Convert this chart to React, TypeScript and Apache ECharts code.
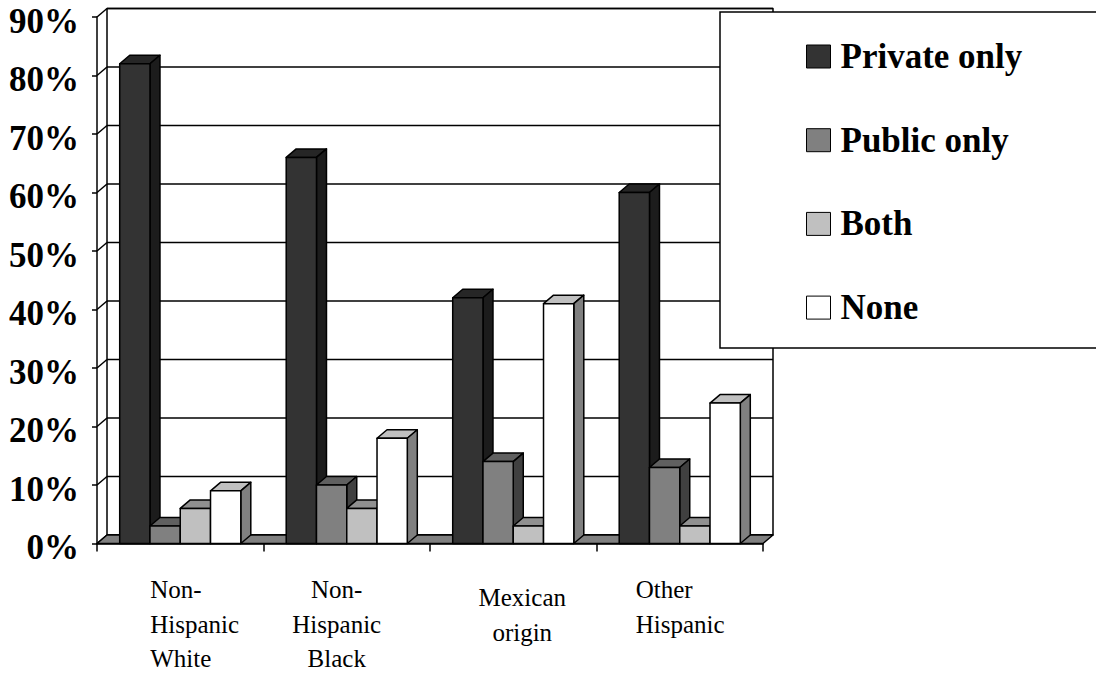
import React, { useEffect, useRef } from 'react';
import * as echarts from 'echarts';

// Health insurance coverage by ethnic group (percent of group)
const categories = ['Non-\nHispanic\nWhite', 'Non-\nHispanic\nBlack', 'Mexican\norigin', 'Other\nHispanic'];
const seriesNames = ['Private only', 'Public only', 'Both', 'None'];
const privateOnly = [82, 66, 42, 60];
const publicOnly = [3, 10, 14, 13];
const both = [6, 6, 3, 3];
const none = [9, 18, 41, 24];
const yTicks = [0, 10, 20, 30, 40, 50, 60, 70, 80, 90];

const seriesValues = [privateOnly, publicOnly, both, none];

// Shading for front, top and right-hand faces of each column
const FACES = [
  { front: '#333333', top: '#262626', side: '#1c1c1c' },
  { front: '#808080', top: '#606060', side: '#404040' },
  { front: '#c0c0c0', top: '#909090', side: '#606060' },
  { front: '#ffffff', top: '#c0c0c0', side: '#808080' },
];

const DX = 10; // depth offset of the 3-D box, px
const DY = -8.5;
const GAP = 1.5; // gap between clusters, in column widths
const SERIF = "'Liberation Serif', 'Times New Roman', serif";
const EDGE = { stroke: '#000', lineWidth: 1.5, lineJoin: 'round' };

// Per-category placement of the wrapped axis labels
const labelRich: Record<string, any> = {
  c0: { width: 89, align: 'left', padding: [0, 0, 0, 29] },
  c1: { align: 'center', padding: [0, 20, 0, 0] },
  c2: { align: 'center', padding: [0, 0, 0, 18] },
  c3: { width: 88, align: 'left', padding: [0, 0, 0, 0] },
};
Object.keys(labelRich).forEach((k) => {
  labelRich[k] = { fontFamily: SERIF, fontSize: 25, lineHeight: 34.5, color: '#000', ...labelRich[k] };
});
const labelOffsetTop = [0, 0, 8, 0];

function wallRenderer(params: any, api: any) {
  const cs = params.coordSys;
  const x0 = cs.x;
  const x1 = cs.x + cs.width;
  const yBottom = api.coord([0, yTicks[0]])[1];
  const yTop = api.coord([0, yTicks[yTicks.length - 1]])[1];
  const children: any[] = [];
  children.push({
    type: 'rect',
    shape: { x: x0 + DX, y: yTop + DY, width: x1 - x0, height: yBottom - yTop },
    style: { fill: '#fff', ...EDGE },
  });
  yTicks.forEach((t) => {
    const y = api.coord([0, t])[1];
    children.push({
      type: 'line',
      shape: { x1: x0 + DX, y1: y + DY, x2: x1 + DX, y2: y + DY },
      style: { ...EDGE },
    });
    children.push({
      type: 'line',
      shape: { x1: x0, y1: y, x2: x0 + DX, y2: y + DY },
      style: { ...EDGE },
    });
  });
  children.push({
    type: 'polygon',
    shape: { points: [[x0, yBottom], [x1, yBottom], [x1 + DX, yBottom + DY], [x0 + DX, yBottom + DY]] },
    style: { fill: '#808080', ...EDGE },
  });
  return { type: 'group', children };
}

function barRenderer(seriesIndex: number) {
  return (params: any, api: any) => {
    const cat = api.value(0);
    const val = api.value(1);
    const base = api.coord([cat, 0]);
    const top = api.coord([cat, val]);
    const band = api.size([1, 0])[0];
    const bw = band / (seriesValues.length + GAP);
    const x0 = base[0] - band / 2 + bw * (GAP / 2 + seriesIndex);
    const x1 = x0 + bw;
    const yb = base[1];
    const yt = top[1];
    const c = FACES[seriesIndex];
    return {
      type: 'group',
      children: [
        {
          type: 'polygon',
          shape: { points: [[x0, yt], [x1, yt], [x1 + DX, yt + DY], [x0 + DX, yt + DY]] },
          style: { fill: c.top, ...EDGE },
        },
        {
          type: 'polygon',
          shape: { points: [[x1, yt], [x1 + DX, yt + DY], [x1 + DX, yb + DY], [x1, yb]] },
          style: { fill: c.side, ...EDGE },
        },
        {
          type: 'rect',
          shape: { x: x0, y: yt, width: bw, height: yb - yt },
          style: { fill: c.front, ...EDGE },
        },
      ],
    };
  };
}

export default function App() {
  const ref = useRef<HTMLDivElement>(null);

  useEffect(() => {
    if (!ref.current) return;
    const chart = echarts.init(ref.current, undefined, { renderer: 'svg' });

    const series: any[] = [
      {
        type: 'custom',
        name: 'wall',
        renderItem: wallRenderer,
        data: [[0, 0]],
        encode: { x: 0, y: 1 },
        silent: true,
        z: 1,
      },
    ];
    seriesNames.forEach((name, i) => {
      series.push({
        type: 'custom',
        name,
        renderItem: barRenderer(i),
        data: seriesValues[i].map((v, k) => [k, v]),
        encode: { x: 0, y: 1 },
        itemStyle: { color: FACES[i].front },
        z: 2,
      });
    });

    chart.setOption({
      animation: false,
      backgroundColor: '#fff',
      grid: { left: 97, top: 17, width: 666, height: 526.5 },
      xAxis: {
        type: 'category',
        data: categories.map((c, i) => ({
          value: c,
          textStyle: { padding: [labelOffsetTop[i], 0, 0, 0] },
        })),
        boundaryGap: true,
        axisLine: { show: true, lineStyle: { color: '#000', width: 1.5 } },
        axisTick: { show: true, length: 8, lineStyle: { color: '#000', width: 1.5 } },
        axisLabel: {
          interval: 0,
          margin: 29,
          fontFamily: SERIF,
          fontSize: 25,
          formatter: (value: string, index: number) =>
            value
              .split('\n')
              .map((line) => `{c${index}|${line}}`)
              .join('\n'),
          rich: labelRich,
        },
        splitLine: { show: false },
        z: 3,
      },
      yAxis: {
        type: 'value',
        min: 0,
        max: 90,
        interval: 10,
        axisLine: { show: true, lineStyle: { color: '#000', width: 1.5 } },
        axisTick: { show: true, length: 5, lineStyle: { color: '#000', width: 1.5 } },
        axisLabel: {
          margin: 18,
          formatter: (v: number) => `${v}%`,
          fontFamily: SERIF,
          fontWeight: 'bold',
          fontSize: 35,
          verticalAlign: 'top',
          lineHeight: 8,
          color: '#000',
        },
        splitLine: { show: false },
      },
      legend: {
        data: seriesNames,
        orient: 'vertical',
        left: 806,
        top: 39,
        itemWidth: 24,
        itemHeight: 23,
        itemGap: 48.7,
        icon: 'rect',
        padding: 0,
        itemStyle: { borderColor: '#000', borderWidth: 1 },
        textStyle: {
          fontFamily: SERIF,
          fontWeight: 'bold',
          fontSize: 35,
          color: '#000',
          lineHeight: 35,
          padding: [0, 0, 0, 5],
        },
        selectedMode: false,
        z: 10,
      },
      graphic: [
        {
          type: 'rect',
          shape: { x: 720, y: 12, width: 400, height: 336 },
          style: { fill: '#fff', stroke: '#000', lineWidth: 1.5 },
          z: 5,
        },
      ],
      series,
    });

    return () => chart.dispose();
  }, []);

  return (
    <div
      ref={ref}
      style={{ position: 'fixed', left: 0, top: 0, width: 1096, height: 677, background: '#fff' }}
    />
  );
}
